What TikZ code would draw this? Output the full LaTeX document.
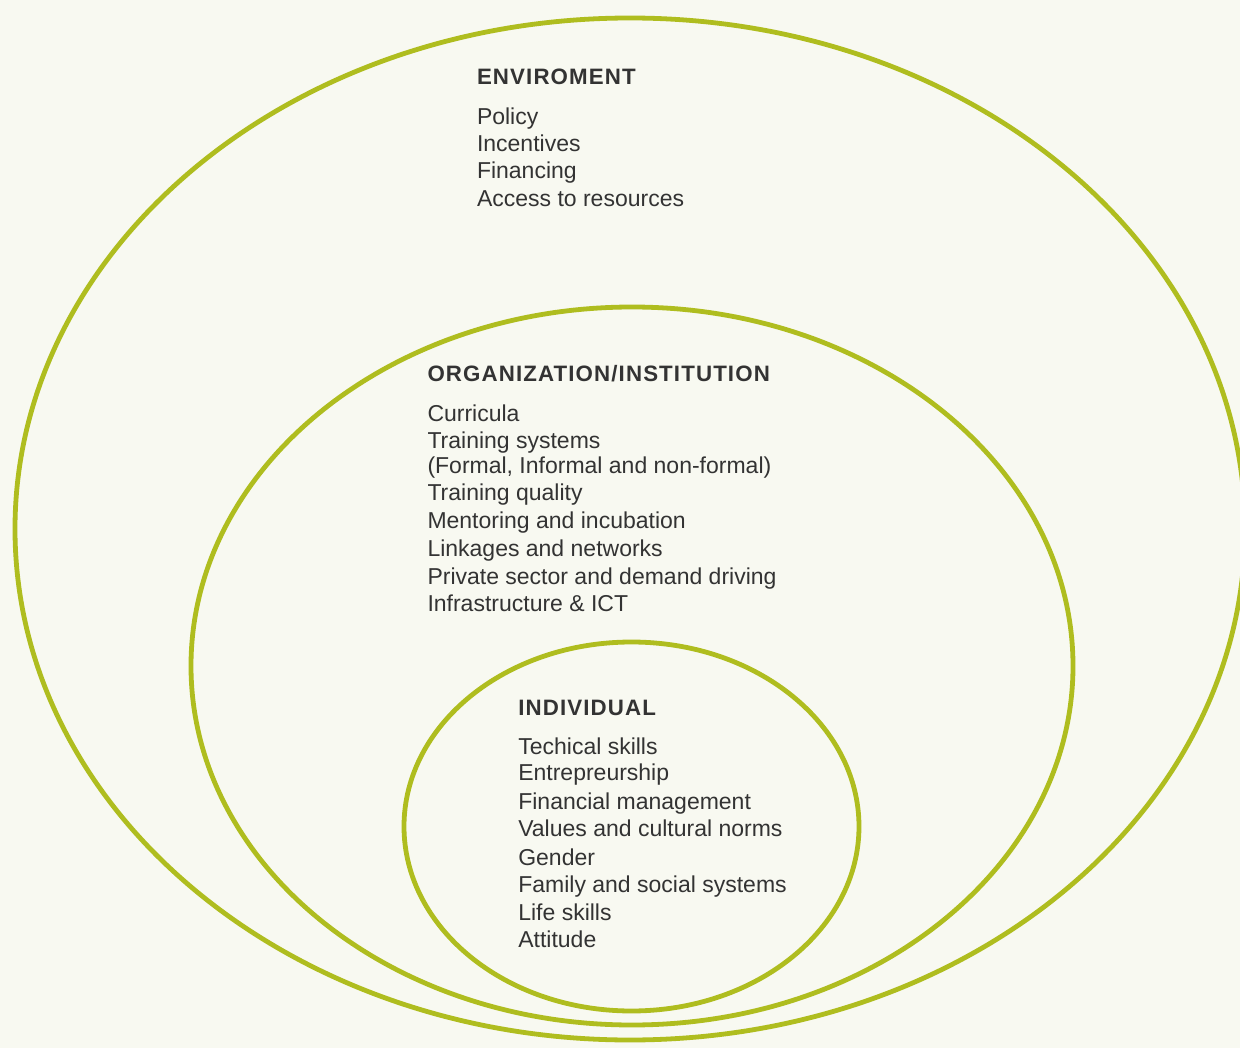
\documentclass[tikz,border=0pt]{standalone}
\usepackage{fontspec}
\setmainfont{Liberation Sans}
\definecolor{bgc}{HTML}{F8F9F1}
\definecolor{ringc}{HTML}{AFBD1F}
\definecolor{txtc}{HTML}{333333}
\begin{document}
\begin{tikzpicture}[x=1pt,y=-1pt,
  ring/.style={draw=ringc,line width=4.8pt},
  item/.style={anchor=base west,inner sep=0pt,outer sep=0pt,text=txtc,font=\fontsize{23}{27}\selectfont},
  head/.style={anchor=base west,inner sep=0pt,outer sep=0pt,text=txtc,font=\fontsize{22.3}{26}\selectfont\bfseries\addfontfeatures{LetterSpace=5}}]
\fill[bgc] (0,0) rectangle (1240,1048);
\useasboundingbox (0,0) rectangle (1240,1048);
\draw[ring] (630,529) ellipse [x radius=615, y radius=511];
\draw[ring] (632,666) ellipse [x radius=441, y radius=359];
\draw[ring] (631.5,826.5) ellipse [x radius=227.5, y radius=184.5];
% Environment
\node[head] (envh) at (477,84.3) {ENVIROMENT};
\node[item] (env1) at (477,124.3) {Policy};
\node[item] (env2) at (477,151.7) {Incentives};
\node[item] (env3) at (477,178.9) {Financing};
\node[item] (env4) at (477,206.7) {Access to resources};
% Organization
\node[head] (orgh) at (427.5,381.7) {ORGANIZATION/INSTITUTION};
\node[item] (org1) at (427.5,421.7) {Curricula};
\node[item] (org2) at (427.5,448.3) {Training systems};
\node[item] (org3) at (427.5,473.3) {(Formal, Informal and non-formal)};
\node[item] (org4) at (427.5,500.7) {Training quality};
\node[item] (org5) at (427.5,528.3) {Mentoring and incubation};
\node[item] (org6) at (427.5,556) {Linkages and networks};
\node[item] (org7) at (427.5,584.3) {Private sector and demand driving};
\node[item] (org8) at (427.5,611.7) {Infrastructure \& ICT};
% Individual
\node[head] (indh) at (518.3,715) {INDIVIDUAL};
\node[item] (ind1) at (518.3,754) {Techical skills};
\node[item] (ind2) at (518.3,780.7) {Entrepreurship};
\node[item] (ind3) at (518.3,809) {Financial management};
\node[item] (ind4) at (518.3,836.7) {Values and cultural norms};
\node[item] (ind5) at (518.3,865) {Gender};
\node[item] (ind6) at (518.3,892.3) {Family and social systems};
\node[item] (ind7) at (518.3,920) {Life skills};
\node[item] (ind8) at (518.3,947.7) {Attitude};
\end{tikzpicture}
\end{document}
